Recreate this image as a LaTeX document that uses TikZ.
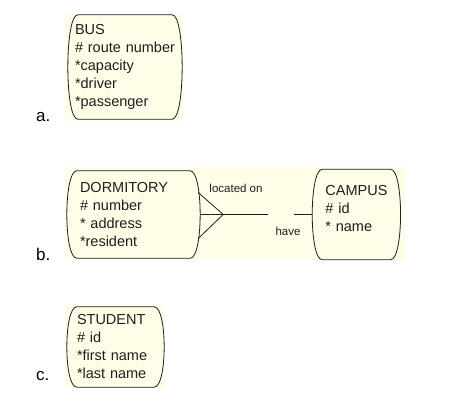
\documentclass[tikz,border=0pt]{standalone}
\usepackage{fontspec}
\setmainfont{Liberation Sans}
\usetikzlibrary{positioning}

\definecolor{cream}{RGB}{255,252,232}
\definecolor{ink}{RGB}{30,30,30}

% outline of an entity: flat top and bottom, bulging sides
\newcommand{\entityoutline}[1]{%
\draw[line width=0.8pt, ink] ([xshift=10pt]#1.north west) -- ([xshift=-10pt]#1.north east)
  .. controls ([xshift=3.3pt]#1.north east) and ([xshift=3.3pt]#1.south east) .. ([xshift=-10pt]#1.south east)
  -- ([xshift=10pt]#1.south west)
  .. controls ([xshift=-3.3pt]#1.south west) and ([xshift=-3.3pt]#1.north west) .. cycle;}

\begin{document}
\begin{tikzpicture}[x=1pt, y=-1pt,
panel/.style={fill=cream, draw=none},
entity/.style={align=left, inner ysep=0pt, text=ink,
font=\fontsize{14.5}{18}\selectfont},
item/.style={font=\fontsize{17}{20}\selectfont, inner sep=0pt, anchor=base west},
rel/.style={font=\fontsize{11.5}{14}\selectfont, text=ink, inner sep=0pt},
link/.style={line width=0.8pt, ink}]
\useasboundingbox (0,0) rectangle (456,400);

% background panels
\fill[panel] (65,14) rectangle (183,121);
\fill[panel] (65,167) rectangle (405,260);
\fill[panel] (65,305) rectangle (165,388);

\node[entity, text width=100pt, inner xsep=7pt, minimum height=104pt] (bus) at (125,67)
  {BUS\\\# route number\\{}*capacity\\{}*driver\\{}*passenger};
\node[entity, text width=107pt, inner xsep=13pt, minimum height=87pt] (dormitory) at (133.5,214.5)
  {DORMITORY\\\# number\\{}* address\\{}*resident};
\node[entity, text width=62pt, inner xsep=13pt, minimum height=90pt] (campus) [right=112pt of dormitory]
  {CAMPUS\\\# id\\{}* name\\[-6pt]\mbox{}};
\node[entity, text width=77pt, inner xsep=10pt, minimum height=80pt] (student) at (115.5,347)
  {STUDENT\\\# id\\{}*first name\\{}*last name};

\entityoutline{bus}
\entityoutline{dormitory}
\entityoutline{campus}
\entityoutline{student}

\node[item] (a) at (36,121) {a.};
\node[item] (b) at (36,260) {b.};
\node[item] (c) at (36,380) {c.};

% relationship dormitory -- campus
\coordinate (crow) at ([xshift=23pt]dormitory.east);
\coordinate (mid) at ([xshift=56pt]dormitory.east);
\draw[link] ([xshift=-2pt, yshift=22pt]dormitory.east) -- (crow)
  -- ([xshift=-2pt, yshift=-24pt]dormitory.east);
\draw[link] (dormitory.east) -- (mid);
\draw[link, dash pattern=on 12pt off 26pt on 30pt off 10pt] (mid) -- (campus.west);
\node[rel] (locatedon) at (236,188) {located on};
\node[rel] (have) at (288,231) {have};
\end{tikzpicture}
\end{document}
